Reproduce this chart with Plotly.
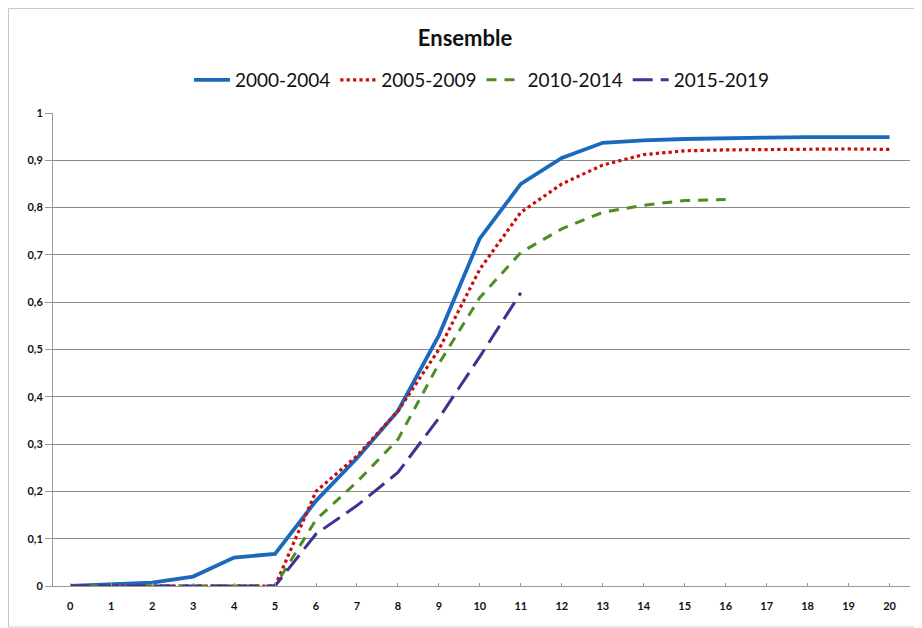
import plotly.graph_objects as go

years = list(range(0, 21))
tick_labels = [str(v) for v in years]

s_2000_2004 = [0, 0.003, 0.007, 0.02, 0.06, 0.068, 0.18, 0.27, 0.37, 0.53, 0.735, 0.85, 0.905, 0.937,
               0.942, 0.945, 0.947, 0.948, 0.949, 0.949, 0.949]
s_2005_2009 = [0, 0, 0, 0, 0, 0, 0.2, 0.275, 0.37, 0.5, 0.67, 0.79, 0.85, 0.89,
               0.912, 0.92, 0.922, 0.923, 0.924, 0.924, 0.923]
s_2010_2014 = [0, 0, 0, 0, 0, 0, 0.14, 0.22, 0.31, 0.47, 0.61, 0.705, 0.755, 0.79,
               0.805, 0.815, 0.817]
s_2015_2019 = [0, 0, 0, 0, 0, 0, 0.11, 0.17, 0.24, 0.355, 0.485, 0.62]

series = [
    ("2000-2004", s_2000_2004, "#1b69bd", 3.8, "solid"),
    ("2005-2009", s_2005_2009, "#cc0a0a", 3.2, "dot"),
    ("2010-2014", s_2010_2014, "#4f8c22", 3, "10px,8px"),
    ("2015-2019", s_2015_2019, "#3d3391", 3, "20px,8px"),
]

fig = go.Figure()
for name, vals, color, w, dash in series:
    fig.add_trace(go.Scatter(
        x=years[:len(vals)], y=vals, mode="lines", name=name,
        line=dict(color=color, width=w, dash=dash),
    ))

font = "Lato, 'Open Sans', sans-serif"
W, H = 914, 620
L, R, T, B = 45, 12, 105, 42
pw, ph = W - L - R, H - T - B
fig.update_layout(
    width=W, height=H,
    margin=dict(l=L, r=R, t=T, b=B, autoexpand=False),
    paper_bgcolor="white", plot_bgcolor="white",
    separators=", ",
    title=dict(text="<b>Ensemble</b>", x=0.5, xanchor="center", y=1 - 30 / H, yanchor="middle",
               font=dict(family=font, size=22, color="#111")),
    legend=dict(orientation="h", x=0.5, xanchor="center", y=(ph + T - 72) / ph, yanchor="middle",
                font=dict(family=font, size=19, color="#111"), itemwidth=36,
                bgcolor="rgba(0,0,0,0)"),
    showlegend=True,
)
fig.update_xaxes(
    range=[-0.42, 20.5], tickmode="array", tickvals=years, ticktext=tick_labels,
    showgrid=False, showline=True, linecolor="#999", linewidth=1,
    ticks="inside", ticklen=3, tickcolor="#999", zeroline=False,
    tickfont=dict(family=font, size=11, color="#111", weight="bold"),
    ticklabelstandoff=10,
)
fig.update_yaxes(
    range=[0, 1.0], dtick=0.1, tick0=0, tickformat=".1~f",
    showgrid=True, gridcolor="#8a8a8a", gridwidth=1,
    showline=True, linecolor="#999", linewidth=1,
    ticks="outside", ticklen=7, tickcolor="#999", zeroline=False,
    tickfont=dict(family=font, size=11, color="#111", weight="bold"),
)
fig.add_shape(type="rect", xref="paper", yref="paper",
              x0=(0.5 - L) / pw, x1=(W - 1 - L) / pw, y0=-(H - 1 - T - ph) / ph,
              y1=(T + ph - 0.5) / ph,
              line=dict(color="#c8c8c8", width=1), layer="below")

fig.write_html("out.html")
